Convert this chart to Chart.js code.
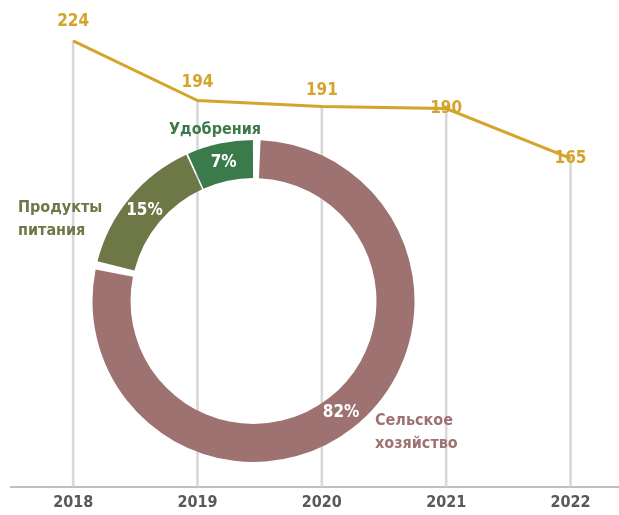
<!DOCTYPE html>
<html>
<head>
<meta charset="utf-8">
<script src="https://cdn.jsdelivr.net/npm/chart.js@4.4.1/dist/chart.umd.min.js"></script>
<style>
  body { margin: 0; background: #fff; }
  #wrap { position: relative; width: 619px; height: 515px; }
  #wrap canvas { position: absolute; left: 0; top: 0; }
</style>
</head>
<body>
<div id="wrap">
  <canvas id="lineChart" width="619" height="515"></canvas>
  <canvas id="ringChart" width="619" height="515"></canvas>
</div>
<script>
// data
const years = [2018, 2019, 2020, 2021, 2022];
const volumes = [224, 194, 191, 190, 165];
const shareLabels = ["Сельское хозяйство", "Продукты питания", "Удобрения"];
const shareValues = [82, 15, 7];

const FONT = '"DejaVu Sans", sans-serif';
const gold = "#d4a52a";
const dropGray = "#d9d9d9";
const shareColors = ["#9f7272", "#6e7846", "#3b7a4b"];

// value label offset above each point (px)
const valueLabelLift = [19, 18, 16, 0, 0];

// outer labels for the ring: x, first-line y, alignment
const ringLabelPos = [
  { x: 375, y: 421, align: "left" },
  { x: 18, y: 208, align: "left" },
  { x: 215, y: 130, align: "center" },
];

const valueLabels = {
  id: "valueLabels",
  afterDatasetsDraw(chart) {
    const ctx = chart.ctx;
    const meta = chart.getDatasetMeta(1);
    ctx.save();
    ctx.font = "condensed bold 17px " + FONT;
    ctx.fillStyle = gold;
    ctx.textAlign = "center";
    ctx.textBaseline = "middle";
    meta.data.forEach((pt, i) => {
      ctx.fillText(String(volumes[i]), pt.x, pt.y - valueLabelLift[i]);
    });
    ctx.restore();
  },
};

new Chart(document.getElementById("lineChart"), {
  data: {
    datasets: [
      {
        type: "bar",
        data: years.map((y, i) => ({ x: y, y: volumes[i] })),
        backgroundColor: dropGray,
        barThickness: 2,
        order: 2,
      },
      {
        type: "line",
        data: years.map((y, i) => ({ x: y, y: volumes[i] })),
        borderColor: gold,
        borderWidth: 3,
        pointRadius: 0,
        tension: 0,
        order: 1,
      },
    ],
  },
  options: {
    responsive: false,
    animation: false,
    events: [],
    layout: { padding: { left: 11, right: 0, top: 9, bottom: -3 } },
    plugins: { legend: { display: false }, tooltip: { enabled: false } },
    scales: {
      x: {
        type: "linear",
        offset: false,
        min: 2017.5,
        max: 2022.39,
        grid: { display: false, drawTicks: false },
        border: { display: true, color: "#bfbfbf", width: 2 },
        ticks: {
          stepSize: 1,
          includeBounds: false,
          color: "#595959",
          font: { family: FONT, size: 16, weight: "condensed bold" },
          padding: 6,
          maxRotation: 0,
          callback: (v) => String(v),
        },
      },
      y: { display: false, min: 0, max: 240 },
    },
  },
  plugins: [valueLabels],
});

const ringText = {
  id: "ringText",
  afterDatasetsDraw(chart) {
    const ctx = chart.ctx;
    const meta = chart.getDatasetMeta(0);
    ctx.save();
    ctx.textBaseline = "middle";
    meta.data.forEach((arc, i) => {
      const p = arc.tooltipPosition();
      ctx.font = "condensed bold 17px " + FONT;
      ctx.fillStyle = "#ffffff";
      ctx.textAlign = "center";
      ctx.fillText(shareValues[i] + "%", p.x, p.y);

      const pos = ringLabelPos[i];
      ctx.font = "condensed bold 16px " + FONT;
      ctx.fillStyle = shareColors[i];
      ctx.textAlign = pos.align;
      shareLabels[i].split(" ").forEach((word, k) => {
        ctx.fillText(word, pos.x, pos.y + k * 23);
      });
    });
    ctx.restore();
  },
};

new Chart(document.getElementById("ringChart"), {
  type: "doughnut",
  data: {
    labels: shareLabels,
    datasets: [
      {
        data: shareValues,
        backgroundColor: shareColors,
        borderWidth: 0,
        spacing: 5,
        hoverOffset: 0,
      },
    ],
  },
  options: {
    responsive: false,
    animation: false,
    events: [],
    cutout: "76%",
    layout: { padding: { left: 92, top: 140, right: 204, bottom: 53 } },
    plugins: { legend: { display: false }, tooltip: { enabled: false } },
  },
  plugins: [ringText],
});
</script>
</body>
</html>
